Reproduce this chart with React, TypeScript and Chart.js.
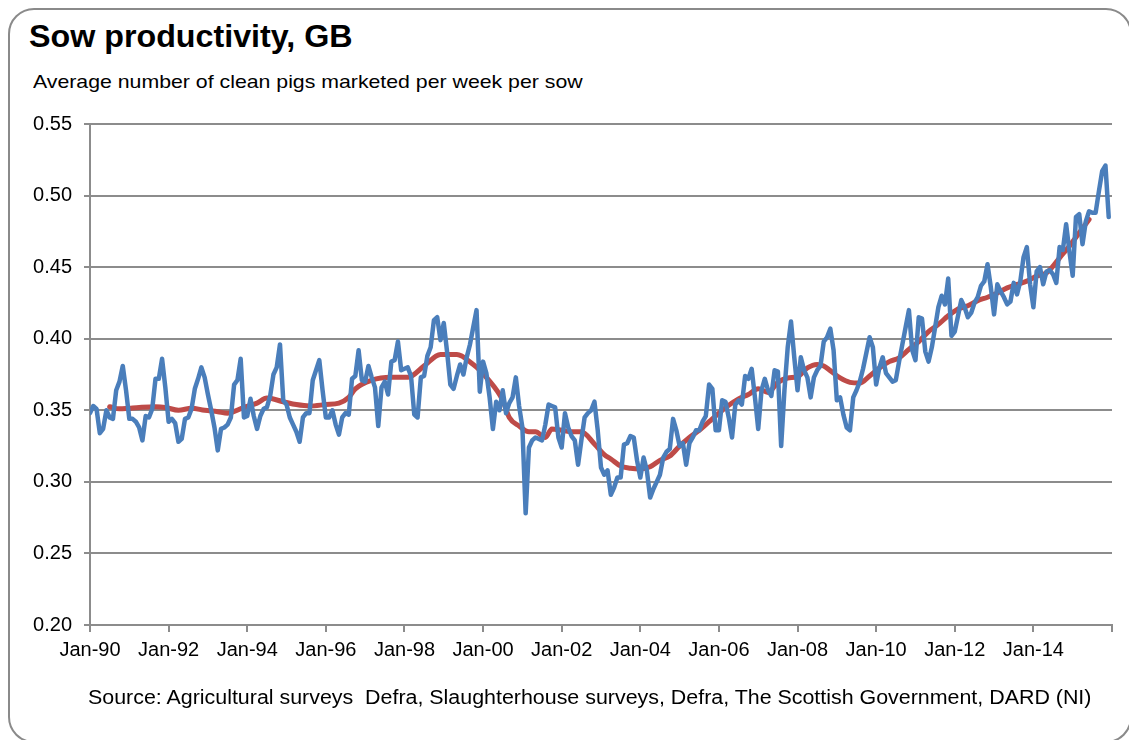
import React, { useEffect, useRef } from 'react';
import { Chart, registerables } from 'chart.js';

Chart.register(...registerables);

// Monthly sow productivity (clean pigs marketed per week per sow), Jan-1990 .. Dec-2015
const productivity1990s = [
  0.348, 0.353, 0.351, 0.334, 0.337, 0.350, 0.345, 0.344, 0.364, 0.370, 0.381, 0.364,
  0.344, 0.344, 0.342, 0.338, 0.329, 0.346, 0.345, 0.351, 0.372, 0.372, 0.386, 0.366,
  0.342, 0.344, 0.341, 0.328, 0.330, 0.344, 0.345, 0.351, 0.365, 0.372, 0.380, 0.373,
  0.361, 0.350, 0.338, 0.322, 0.337, 0.338, 0.340, 0.345, 0.368, 0.371, 0.386, 0.345,
  0.346, 0.358, 0.346, 0.337, 0.346, 0.351, 0.352, 0.360, 0.375, 0.380, 0.396, 0.357,
  0.354, 0.345, 0.340, 0.335, 0.328, 0.345, 0.348, 0.348, 0.371, 0.378, 0.385, 0.364,
  0.345, 0.345, 0.350, 0.340, 0.333, 0.345, 0.348, 0.347, 0.372, 0.374, 0.392, 0.371,
  0.370, 0.381, 0.373, 0.366, 0.339, 0.366, 0.370, 0.361, 0.384, 0.385, 0.398, 0.378,
  0.379, 0.380, 0.374, 0.347, 0.345, 0.373, 0.374, 0.388, 0.394, 0.413, 0.415, 0.399,
  0.411, 0.391, 0.368, 0.365, 0.374, 0.382, 0.375, 0.387, 0.396, 0.408, 0.420, 0.363,
];
const productivity2000s = [
  0.384, 0.376, 0.359, 0.337, 0.356, 0.350, 0.364, 0.348, 0.355, 0.359, 0.373, 0.353,
  0.338, 0.278, 0.324, 0.329, 0.331, 0.330, 0.329, 0.340, 0.354, 0.353, 0.352, 0.331,
  0.324, 0.348, 0.338, 0.332, 0.329, 0.312, 0.329, 0.345, 0.348, 0.350, 0.356, 0.336,
  0.310, 0.305, 0.308, 0.291, 0.296, 0.303, 0.303, 0.326, 0.327, 0.332, 0.331, 0.315,
  0.303, 0.317, 0.308, 0.289, 0.295, 0.300, 0.305, 0.317, 0.321, 0.323, 0.344, 0.336,
  0.325, 0.327, 0.312, 0.327, 0.331, 0.336, 0.336, 0.342, 0.346, 0.368, 0.365, 0.336,
  0.336, 0.357, 0.356, 0.345, 0.331, 0.354, 0.357, 0.354, 0.374, 0.372, 0.379, 0.359,
  0.337, 0.364, 0.372, 0.364, 0.360, 0.378, 0.377, 0.325, 0.364, 0.394, 0.412, 0.387,
  0.364, 0.387, 0.378, 0.373, 0.359, 0.373, 0.378, 0.381, 0.398, 0.401, 0.407, 0.392,
  0.357, 0.359, 0.347, 0.338, 0.336, 0.359, 0.364, 0.370, 0.379, 0.390, 0.401, 0.394,
];
const productivity2010s = [
  0.368, 0.380, 0.387, 0.376, 0.373, 0.370, 0.371, 0.384, 0.396, 0.408, 0.420, 0.392,
  0.385, 0.415, 0.414, 0.391, 0.384, 0.394, 0.408, 0.422, 0.430, 0.424, 0.442, 0.402,
  0.405, 0.416, 0.427, 0.422, 0.415, 0.418, 0.425, 0.429, 0.437, 0.440, 0.452, 0.436,
  0.417, 0.438, 0.433, 0.429, 0.424, 0.426, 0.439, 0.431, 0.440, 0.457, 0.464, 0.438,
  0.422, 0.447, 0.450, 0.438, 0.447, 0.448, 0.445, 0.439, 0.464, 0.462, 0.480, 0.461,
  0.444, 0.485, 0.487, 0.466, 0.482, 0.489, 0.488, 0.488, 0.503, 0.517, 0.521, 0.485,
];

// Red trend line (12-month moving average): month index from Jan-90, value
const trendMonth = [
  6, 9, 12, 15, 20, 23, 27, 31, 35, 39, 42, 47, 51, 54, 59, 63, 67, 72, 76, 79,
  81, 86, 92, 97, 102, 107, 112, 117, 119, 121, 126, 128, 131, 134, 136, 139, 141, 144, 147, 150,
  154, 157, 159, 162, 165, 168, 171, 174, 177, 180, 183, 186, 189, 192, 195, 198, 201, 204, 207, 210,
  213, 216, 219, 222, 224, 226, 229, 232, 235, 238, 241, 244, 247, 250, 253, 256, 259, 262, 265, 268,
  271, 274, 277, 280, 283, 286, 289, 292, 294, 296, 299, 302, 305,
];
const trendValue = [
  0.3525, 0.351, 0.3515, 0.352, 0.3525, 0.352, 0.350, 0.3515, 0.350, 0.349, 0.348, 0.352, 0.355, 0.3585, 0.356, 0.354, 0.353, 0.354, 0.355, 0.359,
  0.365, 0.371, 0.373, 0.373, 0.381, 0.389, 0.389, 0.382, 0.378, 0.373, 0.357, 0.345, 0.339, 0.335, 0.335, 0.331, 0.337, 0.336, 0.335, 0.335,
  0.3265, 0.319, 0.316, 0.311, 0.3095, 0.309, 0.3105, 0.315, 0.318, 0.325, 0.331, 0.336, 0.342, 0.348, 0.3535, 0.358, 0.361, 0.365, 0.3625, 0.3695,
  0.3726, 0.3735, 0.3796, 0.382, 0.381, 0.3777, 0.3726, 0.3695, 0.369, 0.374, 0.3796, 0.384, 0.3866, 0.3925, 0.398, 0.405, 0.410, 0.416, 0.4207, 0.423,
  0.4266, 0.429, 0.432, 0.4355, 0.4379, 0.4402, 0.4437, 0.446, 0.4507, 0.4565, 0.4647, 0.474, 0.4833,
];

const xTickLabels = [
  'Jan-90', 'Jan-92', 'Jan-94', 'Jan-96', 'Jan-98', 'Jan-00', 'Jan-02',
  'Jan-04', 'Jan-06', 'Jan-08', 'Jan-10', 'Jan-12', 'Jan-14',
];
const monthsPerTick = 24;
const totalMonths = 312;
const yMin = 0.2;
const yMax = 0.55;
const yStep = 0.05;

const FONT = '"Liberation Sans", Arial, sans-serif';

export default function App() {
  const canvasRef = useRef<HTMLCanvasElement | null>(null);

  useEffect(() => {
    document.body.style.overflow = 'hidden';
    const canvas = canvasRef.current;
    if (!canvas) return;
    const monthly = [...productivity1990s, ...productivity2000s, ...productivity2010s];
    const bluePoints = monthly.map((v, i) => ({ x: i, y: v }));
    const redPoints = trendMonth.map((m, i) => ({ x: m, y: trendValue[i] }));

    const chart = new Chart(canvas, {
      type: 'line',
      data: {
        datasets: [
          {
            label: 'Monthly',
            data: bluePoints,
            borderColor: '#4A7EBB',
            borderWidth: 4.5,
            pointRadius: 0,
            tension: 0,
            borderJoinStyle: 'round',
            borderCapStyle: 'round',
            fill: false,
          },
          {
            label: 'Trend',
            data: redPoints,
            borderColor: '#BE4B48',
            borderWidth: 5,
            pointRadius: 0,
            cubicInterpolationMode: 'monotone',
            borderJoinStyle: 'round',
            borderCapStyle: 'round',
            fill: false,
          },
        ],
      },
      options: {
        animation: false,
        responsive: false,
        devicePixelRatio: 1,
        layout: { padding: { top: 23, right: 17, bottom: 30, left: 0 } },
        plugins: {
          legend: { display: false },
          tooltip: { enabled: false },
          title: { display: false },
        },
        scales: {
          x: {
            type: 'linear',
            min: 0,
            max: totalMonths,
            afterBuildTicks: (scale: any) => {
              const t = [];
              for (let v = 0; v <= totalMonths; v += monthsPerTick) t.push({ value: v });
              scale.ticks = t;
            },
            afterFit: (scale: any) => {
              scale.height = 45;
            },
            ticks: {
              autoSkip: false,
              maxRotation: 0,
              minRotation: 0,
              padding: 6,
              color: '#000',
              font: { family: FONT, size: 20 },
              callback: (v: any) => xTickLabels[Math.round(Number(v) / monthsPerTick)] ?? '',
            },
            grid: {
              display: true,
              drawOnChartArea: false,
              drawTicks: true,
              tickLength: 7,
              color: '#8c8c8c',
              lineWidth: 2,
            },
            border: { display: true, color: '#8c8c8c', width: 2 },
          },
          y: {
            type: 'linear',
            min: yMin,
            max: yMax,
            afterFit: (scale: any) => {
              scale.width = 82;
            },
            ticks: {
              stepSize: yStep,
              padding: 12,
              color: '#000',
              font: { family: FONT, size: 20 },
              callback: (v: any) => Number(v).toFixed(2),
            },
            grid: {
              display: true,
              drawOnChartArea: true,
              drawTicks: true,
              tickLength: 6,
              color: '#8c8c8c',
              lineWidth: 2,
            },
            border: { display: true, color: '#8c8c8c', width: 2 },
          },
        },
      },
    });
    return () => {
      chart.destroy();
    };
  }, []);

  const stretched = (k: number): React.CSSProperties => ({
    display: 'inline-block',
    transform: `scaleX(${k})`,
    transformOrigin: 'left center',
  });

  return (
    <div style={{ position: 'relative', width: 1129, height: 732, fontFamily: FONT }}>
      <div
        style={{
          position: 'absolute',
          left: 0,
          top: 0,
          width: 1124,
          height: 735,
          border: '2px solid #8a8a8a',
          borderRadius: 26,
          boxSizing: 'border-box',
        }}
      />
      <div
        style={{
          position: 'absolute',
          left: 21,
          top: 13,
          fontSize: 31,
          fontWeight: 'bold',
          color: '#000',
          lineHeight: '31px',
          whiteSpace: 'nowrap',
        }}
      >
        <span style={stretched(1.04)}>Sow productivity, GB</span>
      </div>
      <div
        style={{
          position: 'absolute',
          left: 25,
          top: 64,
          fontSize: 19,
          color: '#000',
          lineHeight: '19px',
          whiteSpace: 'nowrap',
        }}
      >
        <span style={stretched(1.12)}>Average number of clean pigs marketed per week per sow</span>
      </div>
      <canvas
        ref={canvasRef}
        width={1121}
        height={600}
        style={{ position: 'absolute', left: 0, top: 92, width: 1121, height: 600 }}
      />
      <div
        style={{
          position: 'absolute',
          left: 80,
          top: 679,
          fontSize: 20,
          color: '#000',
          lineHeight: '20px',
          whiteSpace: 'nowrap',
        }}
      >
        <span style={stretched(1.07)}>
          Source: Agricultural surveys&nbsp; Defra, Slaughterhouse surveys, Defra, The Scottish Government, DARD (NI)
        </span>
      </div>
    </div>
  );
}
